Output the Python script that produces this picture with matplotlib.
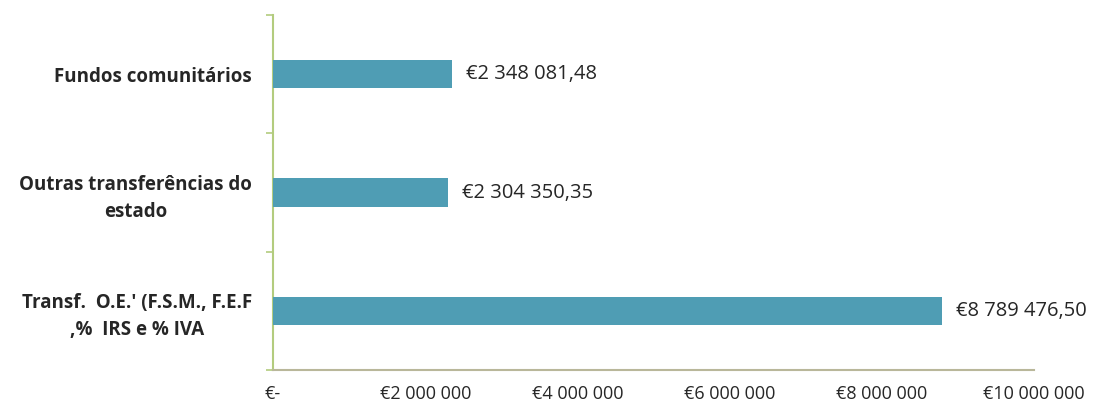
import matplotlib.pyplot as plt
import matplotlib.ticker as mticker

# data, top to bottom as shown
categories = [
    "Fundos comunitários",
    "Outras transferências do\nestado",
    "Transf.  O.E.' (F.S.M., F.E.F\n,%  IRS e % IVA",
]
values = [2348081.48, 2304350.35, 8789476.50]
value_labels = ["€2 348 081,48", "€2 304 350,35", "€8 789 476,50"]
x_ticks = [0, 2000000, 4000000, 6000000, 8000000, 10000000]
x_tick_labels = ["€-", "€2 000 000", "€4 000 000", "€6 000 000", "€8 000 000", "€10 000 000"]

BAR_COLOR = "#4f9db4"
TEXT_COLOR = "#262626"
YAXIS_COLOR = "#b3cc7e"
XAXIS_COLOR = "#b9b79a"

plt.rcParams["font.family"] = ["Open Sans", "DejaVu Sans"]

fig = plt.figure(figsize=(10.93, 4.08), dpi=100)
ax = fig.add_axes([0.2498, 0.0931, 0.6962, 0.8701])

ypos = list(range(len(categories)))
ax.barh(ypos, values, height=0.24, color=BAR_COLOR, zorder=3)
ax.set_ylim(len(categories) - 0.5, -0.5)
ax.set_xlim(0, 10000000)

ax.set_yticks(ypos)
ax.set_yticklabels(categories, fontsize=13.5, fontweight="bold", color=TEXT_COLOR,
                   multialignment="center", linespacing=1.45)
ax.tick_params(axis="y", which="major", length=0, pad=15)
ax.set_yticks([i - 0.5 for i in range(len(categories) + 1)], minor=True)
ax.tick_params(axis="y", which="minor", length=5, color=YAXIS_COLOR, width=1.2)

ax.set_xticks(x_ticks)
ax.set_xticklabels(x_tick_labels, fontsize=13, color=TEXT_COLOR)
ax.tick_params(axis="x", length=0, pad=11)

for y, v, lab in zip(ypos, values, value_labels):
    ax.annotate(lab, xy=(v, y), xytext=(10, 0), textcoords="offset points",
                va="center", ha="left", fontsize=14.5, color=TEXT_COLOR)

for side in ("top", "right"):
    ax.spines[side].set_visible(False)
ax.spines["left"].set_color(YAXIS_COLOR)
ax.spines["left"].set_linewidth(1.5)
ax.spines["bottom"].set_color(XAXIS_COLOR)
ax.spines["bottom"].set_linewidth(1.5)

fig.savefig("out.png", dpi=100, facecolor="white")
